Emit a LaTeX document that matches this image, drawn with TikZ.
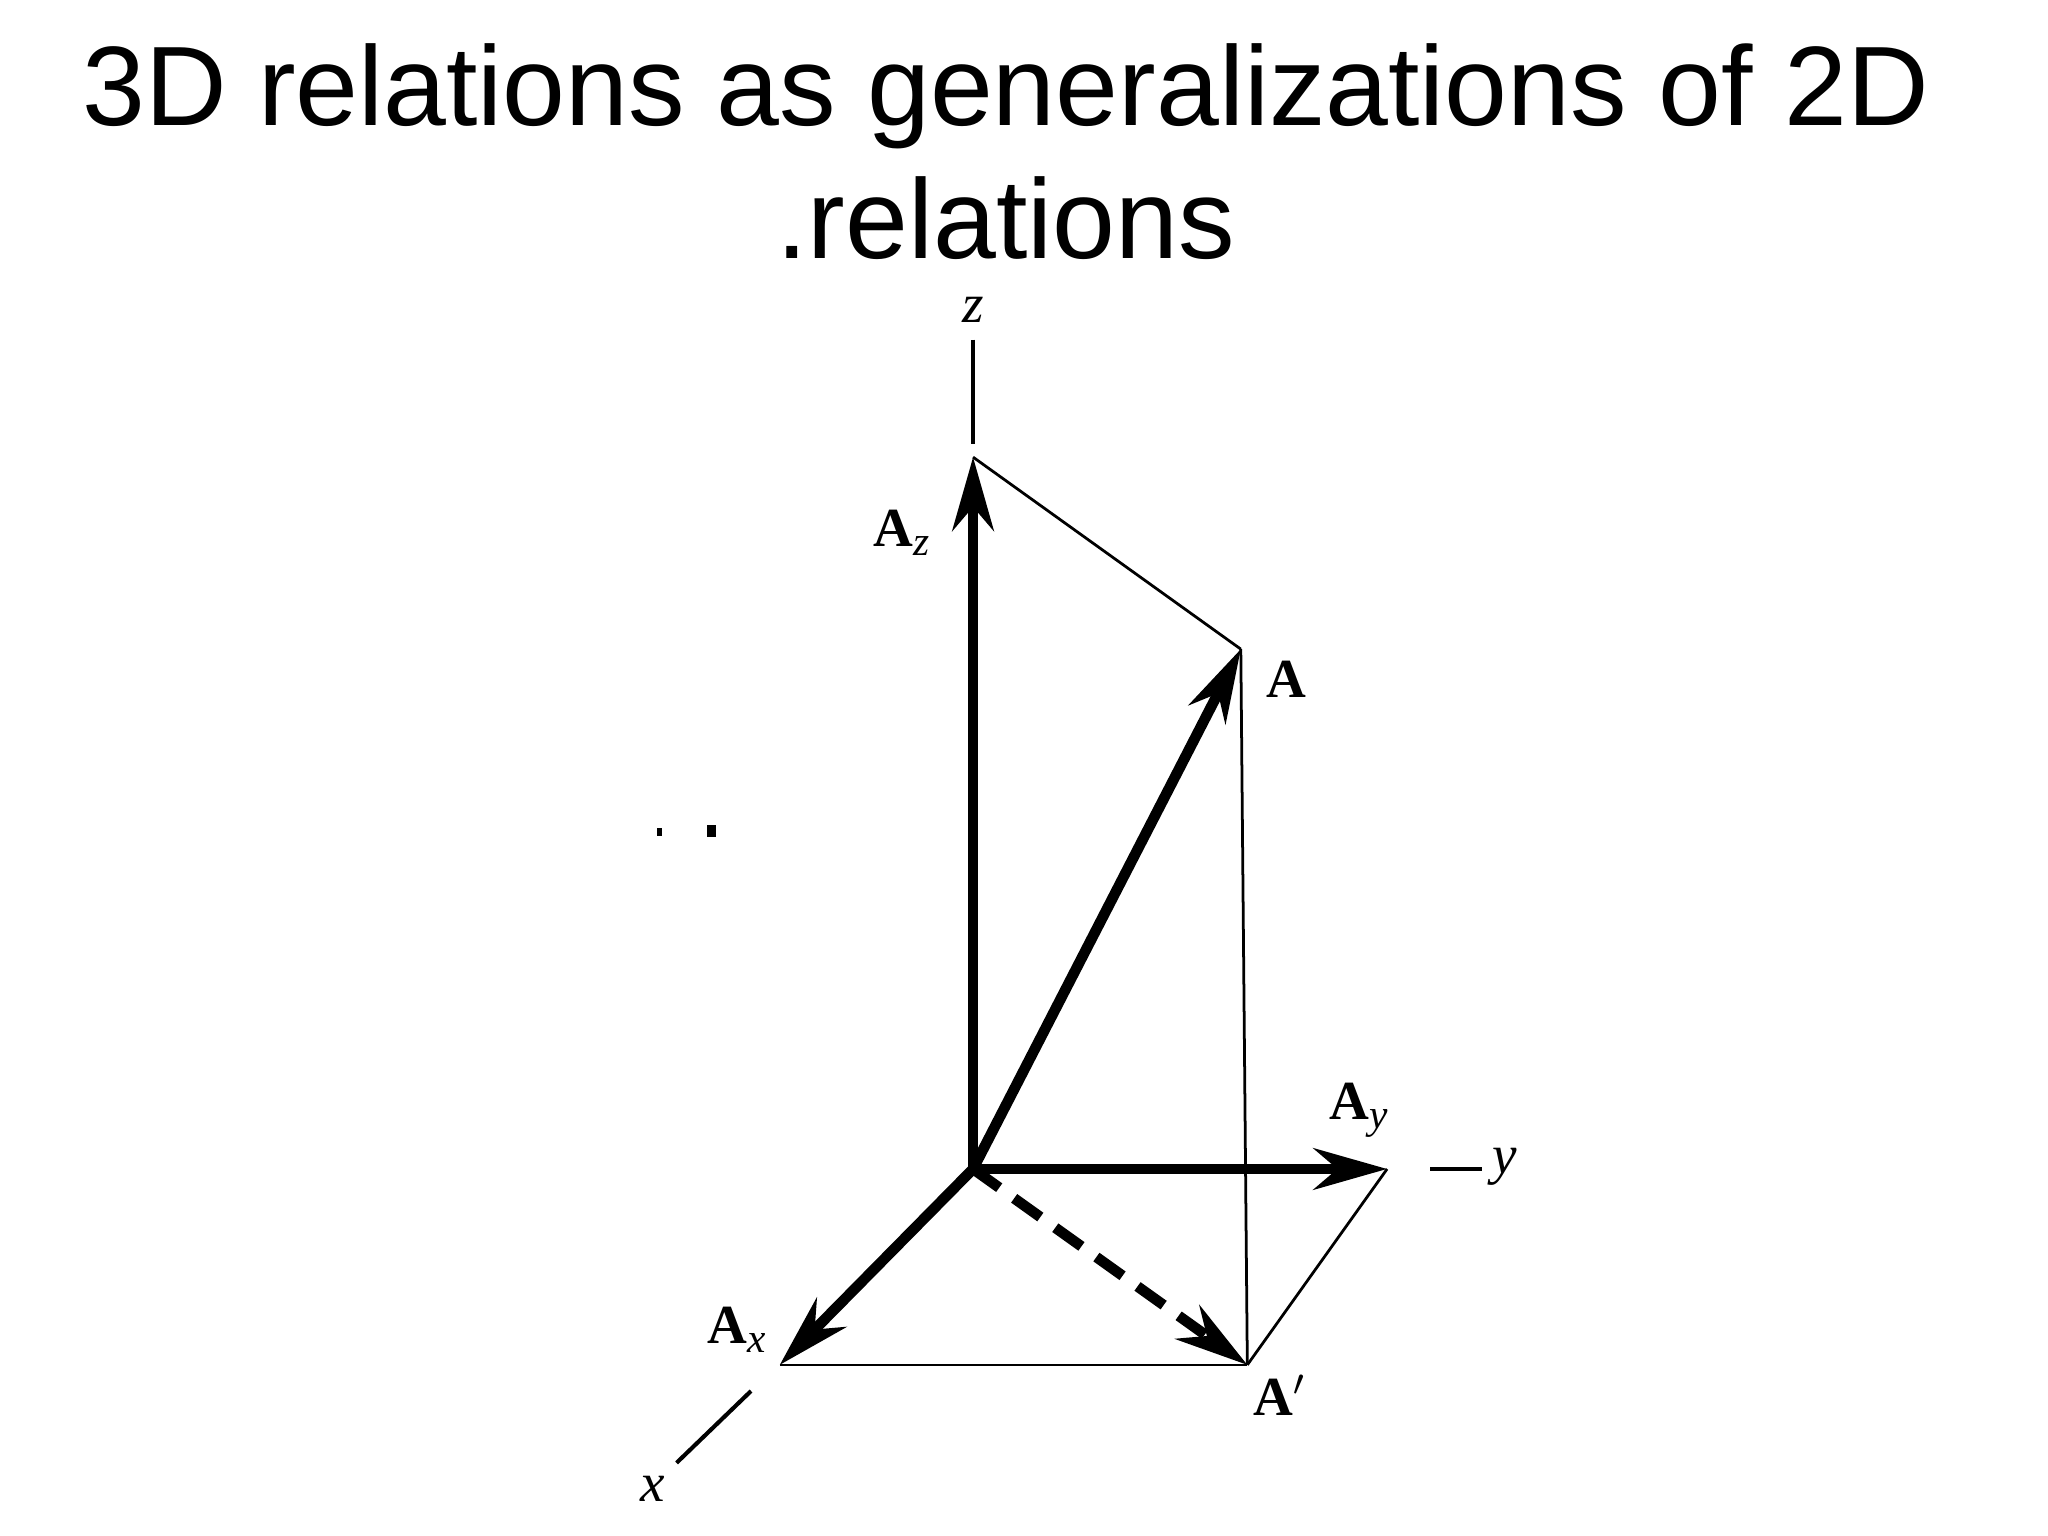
\documentclass[tikz,border=0pt]{standalone}
\usepackage{fontspec}
\setmainfont{Liberation Serif}
\newfontfamily\titlefont{Liberation Sans}
\usetikzlibrary{arrows.meta}
\newcommand{\sbx}[1]{\raisebox{-0.35ex}{\fontsize{9}{10}\selectfont\itshape #1}}
\begin{document}
\begin{tikzpicture}[x=0.01cm,y=-0.01cm,
  vec/.style={line width=2.3pt,-{Stealth[length=16pt,width=9pt]}},
  thin/.style={line width=0.6pt},
  axis/.style={line width=0.9pt},
  lab/.style={font=\fontsize{12}{14}\selectfont}]
\useasboundingbox (0,0) rectangle (1568,1176);
\node[font=\titlefont\fontsize{24.6}{29}\selectfont,align=center] (title) at (770,116) {3D relations as generalizations of 2D\\.relations};
\coordinate (O) at (745,895);
\coordinate (Az) at (745,350);
\coordinate (A) at (950,497);
\coordinate (Ap) at (955,1045);
\coordinate (Ay) at (1062,895);
\coordinate (Ax) at (597,1045);
\coordinate (z1) at (745,260); \coordinate (z2) at (745,340);
\coordinate (y1) at (1095,895); \coordinate (y2) at (1135,895);
\coordinate (x1) at (575,1065); \coordinate (x2) at (518,1120);
\draw[thin] (Az) -- (A);
\draw[thin] (A) -- (Ap);
\draw[thin] (Ay) -- (Ap);
\draw[thin] (Ax) -- (Ap);
\draw[axis] (z1) -- (z2);
\draw[axis] (y1) -- (y2);
\draw[axis] (x1) -- (x2);
\draw[vec] (O) -- (Az);
\draw[vec] (O) -- (A);
\draw[vec] (O) -- (Ay);
\draw[vec] (O) -- (Ax);
\draw[vec,dash pattern=on 7pt off 4pt] (O) -- (Ap);
\node[lab] (lz) at (745,237) {\itshape z};
\node[lab] (ly) at (1152,893) {\itshape y};
\node[lab] (lx) at (500,1140) {\itshape x};
\node[lab] (lA) at (985,520) {\textbf{A}};
\node[lab] (lAz) at (690,408) {\textbf{A}\sbx{z}};
\node[lab] (lAy) at (1040,850) {\textbf{A}\sbx{y}};
\node[lab] (lAx) at (564,1018) {\textbf{A}\sbx{x}};
\node[lab] (lAp) at (980,1068) {\textbf{A}$'$};
\draw[line width=1pt] (505,634) -- (505,640);
\draw[line width=2pt] (545,632) -- (545,641);
\end{tikzpicture}
\end{document}
